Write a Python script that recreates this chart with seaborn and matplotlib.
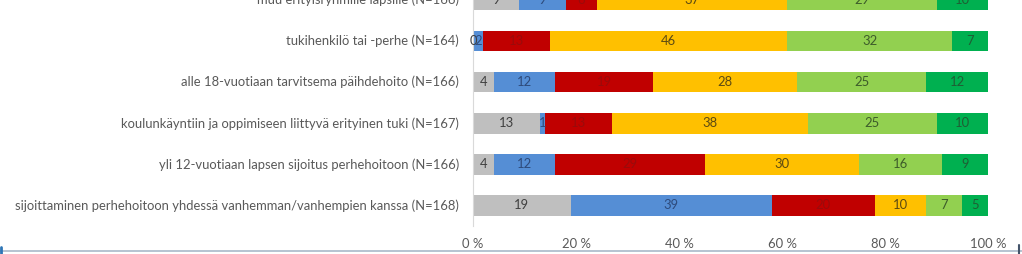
import numpy as np
import pandas as pd
import matplotlib
matplotlib.use("Agg")
import matplotlib.pyplot as plt
from matplotlib.lines import Line2D
import seaborn as sns

categories = [
    "muu erityisryhmille lapsille (N=166)",
    "tukihenkilö tai -perhe (N=164)",
    "alle 18-vuotiaan tarvitsema päihdehoito (N=166)",
    "koulunkäyntiin ja oppimiseen liittyvä erityinen tuki (N=167)",
    "yli 12-vuotiaan lapsen sijoitus perhehoitoon (N=166)",
    "sijoittaminen perhehoitoon yhdessä vanhemman/vanhempien kanssa (N=168)",
]
s1 = [9, 0, 4, 13, 4, 19]
s2 = [9, 2, 12, 1, 12, 39]
s3 = [6, 13, 19, 13, 29, 20]
s4 = [37, 46, 28, 38, 30, 10]
s5 = [29, 32, 25, 25, 16, 7]
s6 = [10, 7, 12, 10, 9, 5]
series = [s1, s2, s3, s4, s5, s6]
xticks = [0, 20, 40, 60, 80, 100]
xtick_labels = ["0 %", "20 %", "40 %", "60 %", "80 %", "100 %"]

colors = ["#BFBFBF", "#558ED5", "#C00000", "#FFC000", "#92D050", "#00B050"]
label_colors = ["#404040", "#2E4B7C", "#9A0B0B", "#5C4A12", "#3D5C2A", "#1F5E34"]
FS = 9.4

sns.set_theme(style="white")
plt.rcParams["font.family"] = ["Lato", "DejaVu Sans"]

fig = plt.figure(figsize=(10.22, 2.54), dpi=100)
ax = fig.add_axes([473 / 1022, (254 - 226) / 254, 515 / 1022, 226 / 254])

vals = np.array(series, dtype=float)
cums = np.cumsum(vals, axis=0)
for i in range(len(series) - 1, -1, -1):
    df = pd.DataFrame({"cat": categories, "val": cums[i]})
    sns.barplot(data=df, y="cat", x="val", orient="h", color=colors[i],
                saturation=1, width=0.5, ax=ax, linewidth=0)

for i in range(len(series)):
    for j in range(len(categories)):
        center = cums[i][j] - vals[i][j] / 2
        ax.text(center, j, f"{int(vals[i][j])}", ha="center", va="center",
                fontsize=FS, color=label_colors[i])

ax.set_xlim(0, 100)
ax.set_ylim(5.5, 0.087)
ax.set_xticks(xticks)
ax.set_xticklabels(xtick_labels)
ax.set_yticks(range(len(categories)))
ax.set_yticklabels([])
for j, cat in enumerate(categories):
    ax.text(-2.7, j, cat, ha="right", va="center", fontsize=FS,
            color="#595959", clip_on=False)
ax.set_xlabel("")
ax.set_ylabel("")
ax.tick_params(axis="both", length=0, colors="#595959", labelsize=FS)
ax.tick_params(axis="x", pad=9)
for s in ["top", "right", "bottom"]:
    ax.spines[s].set_visible(False)
ax.spines["left"].set_color("#D9D9D9")
ax.spines["left"].set_linewidth(0.8)
ax.grid(False)

# frame line at bottom of the screenshot
fig.add_artist(Line2D([0, 1], [3 / 254, 3 / 254], color="#A9B9C9", lw=1.2, transform=fig.transFigure))
fig.add_artist(Line2D([1 / 1022, 1 / 1022], [0, 7 / 254], color="#2E75B6", lw=2, transform=fig.transFigure))
fig.add_artist(Line2D([1019 / 1022, 1019 / 1022], [0, 9 / 254], color="#44546A", lw=1.5, transform=fig.transFigure))

fig.savefig("out.png", dpi=100)
